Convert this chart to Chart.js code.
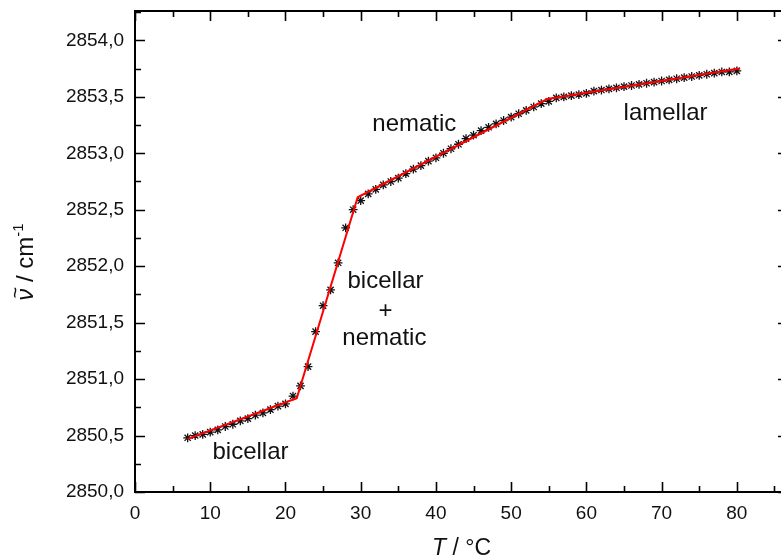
<!DOCTYPE html>
<html>
<head>
<meta charset="utf-8">
<script src="https://cdn.jsdelivr.net/npm/chart.js@4/dist/chart.umd.min.js"></script>
<style>
html,body{margin:0;padding:0;background:#fff;overflow:hidden;width:781px;height:558px;}
canvas{display:block;}
</style>
</head>
<body>
<canvas id="c" width="800" height="558"></canvas>
<script>
// Measured temperatures (°C)
const temperatures = [7,8,9,10,11,12,13,14,15,16,17,18,19,20,21,22,23,24,25,26,27,28,29,30,
  31,32,33,34,35,36,37,38,39,40,41,42,43,44,45,46,47,48,49,50,51,52,53,54,55,
  56,57,58,59,60,61,62,63,64,65,66,67,68,69,70,71,72,73,74,75,76,77,78,79,80];
// Measured wavenumbers (cm^-1)
const wavenumbers = [2850.48,2850.50,2850.51,2850.53,2850.55,2850.58,2850.60,2850.63,2850.65,2850.68,
  2850.70,2850.73,2850.76,2850.78,2850.85,2850.94,2851.11,2851.42,2851.65,2851.79,2852.03,2852.34,2852.50,2852.58,
  2852.64,2852.68,2852.72,2852.75,2852.78,2852.82,2852.86,2852.89,2852.93,2852.96,2853.00,2853.04,2853.08,2853.13,
  2853.16,2853.20,2853.23,2853.26,2853.29,2853.32,2853.35,2853.38,2853.41,2853.44,2853.46,
  2853.49,2853.50,2853.51,2853.52,2853.53,2853.55,2853.56,2853.57,2853.58,2853.59,2853.60,2853.61,2853.62,
  2853.63,2853.64,2853.65,2853.66,2853.67,2853.68,2853.69,2853.70,2853.71,2853.72,2853.72,2853.73];
// Piecewise linear fit (red line) breakpoints
const fitT = [7.0, 21.5, 29.6, 54.8, 80.4];
const fitV = [2850.47, 2850.83, 2852.61, 2853.48, 2853.75];
// Phase labels
const phaseLabels = ['bicellar', 'bicellar', '+', 'nematic', 'nematic', 'lamellar'];
const phaseLabelT = [15.35, 33.3, 33.3, 33.15, 37.13, 70.53];
const phaseLabelV = [2850.292, 2851.805, 2851.54, 2851.30, 2853.197, 2853.292];
// Axis ranges / ticks
const xRange = [0, 86.8];
const yRange = [2850, 2854.26];
const xStep = 10, xMinor = 5;
const yStep = 0.5, yMinor = 0.25;

const FONT = '"Liberation Sans", Arial, Helvetica, sans-serif';
Chart.defaults.font.family = FONT;
Chart.defaults.color = '#111';

const measured = temperatures.map((t, i) => ({x: t, y: wavenumbers[i]}));
const fit = fitT.map((t, i) => ({x: t, y: fitV[i]}));

const decorPlugin = {
  id: 'decor',
  afterDraw(chart) {
    const ctx = chart.ctx;
    const {left, right, top, bottom} = chart.chartArea;
    const xs = chart.scales.x, ys = chart.scales.y;
    ctx.save();
    // ticks
    ctx.strokeStyle = '#000';
    ctx.lineWidth = 1.6;
    ctx.beginPath();
    for (let i = 0; ; i++) {
      const v = xRange[0] + i * xMinor;
      if (v > xRange[1] + 1e-9) break;
      const px = Math.round(xs.getPixelForValue(v)) + 0.5;
      const len = (i % 2 === 0) ? 10 : 6;
      ctx.moveTo(px, bottom); ctx.lineTo(px, bottom - len);
      ctx.moveTo(px, top); ctx.lineTo(px, top + len);
    }
    for (let i = 0; ; i++) {
      const v = yRange[0] + i * yMinor;
      if (v > yRange[1] + 1e-9) break;
      const py = Math.round(ys.getPixelForValue(v)) + 0.5;
      const len = (i % 2 === 0) ? 10 : 6;
      ctx.moveTo(left, py); ctx.lineTo(left + len, py);
      ctx.moveTo(right, py); ctx.lineTo(right - len, py);
    }
    ctx.stroke();
    // frame
    ctx.lineWidth = 2;
    ctx.strokeRect(left, top, right - left, bottom - top);

    // phase labels
    ctx.fillStyle = '#111';
    ctx.font = '24px ' + FONT;
    ctx.textAlign = 'center';
    ctx.textBaseline = 'alphabetic';
    phaseLabels.forEach((s, i) => {
      ctx.fillText(s, xs.getPixelForValue(phaseLabelT[i]), ys.getPixelForValue(phaseLabelV[i]));
    });

    // x title: T / °C
    const fx = '23px ' + FONT, fxi = 'italic 23px ' + FONT;
    ctx.textAlign = 'left';
    ctx.font = fxi; const wT = ctx.measureText('T').width;
    ctx.font = fx; const wR = ctx.measureText(' / °C').width;
    let x0 = (left + right) / 2 - (wT + wR) / 2;
    const by = 555;
    ctx.font = fxi; ctx.fillText('T', x0, by);
    ctx.font = fx; ctx.fillText(' / °C', x0 + wT, by);

    // y title: ν̃ / cm-1 (rotated)
    const f = '24px ' + FONT, fi = 'italic 24px ' + FONT;
    ctx.translate(33, 262);
    ctx.rotate(-Math.PI / 2);
    const fs = '15px ' + FONT;
    ctx.font = fi; const w1 = ctx.measureText('ν').width;
    ctx.font = f; const w2 = ctx.measureText(' / cm').width;
    ctx.font = fs; const w3 = ctx.measureText('-1').width;
    let xx = -(w1 + w2 + w3) / 2;
    ctx.font = fi; ctx.fillText('ν', xx, 0);
    ctx.font = '20px ' + FONT;
    const wt = ctx.measureText('~').width;
    ctx.fillText('~', xx + w1 / 2 - wt / 2 + 2, -11);
    ctx.font = f; ctx.fillText(' / cm', xx + w1, 0);
    ctx.font = fs; ctx.fillText('-1', xx + w1 + w2, -10);
    ctx.restore();
  }
};

new Chart(document.getElementById('c'), {
  type: 'scatter',
  data: {
    datasets: [
      {
        label: 'fit',
        data: fit,
        showLine: true,
        borderColor: '#ff0000',
        borderWidth: 2,
        pointRadius: 0,
        fill: false,
        order: 0
      },
      {
        label: 'measured',
        data: measured,
        pointStyle: 'star',
        pointRadius: 4.4,
        borderColor: '#111',
        backgroundColor: '#111',
        borderWidth: 1.3,
        showLine: false,
        order: 1
      }
    ]
  },
  options: {
    responsive: false,
    animation: false,
    devicePixelRatio: 1,
    layout: {padding: {top: 11, right: 12, left: 0, bottom: 0}},
    plugins: {legend: {display: false}, tooltip: {enabled: false}},
    scales: {
      x: {
        type: 'linear',
        min: xRange[0], max: xRange[1],
        grid: {display: false, drawTicks: false},
        border: {display: false},
        ticks: {
          stepSize: xStep, includeBounds: false, padding: 10,
          font: {size: 19}, color: '#111', maxRotation: 0,
          callback: v => String(v)
        },
        afterFit(s) { s.height = 66; s.paddingLeft = 0; s.paddingRight = 0; }
      },
      y: {
        type: 'linear',
        min: yRange[0], max: yRange[1],
        grid: {display: false, drawTicks: false},
        border: {display: false},
        ticks: {
          stepSize: yStep, includeBounds: false, padding: 11,
          font: {size: 19}, color: '#111',
          callback: v => v.toFixed(1).replace('.', ',')
        },
        afterFit(s) { s.width = 135; s.paddingTop = 0; s.paddingBottom = 0; }
      }
    }
  },
  plugins: [decorPlugin]
});
</script>
</body>
</html>
